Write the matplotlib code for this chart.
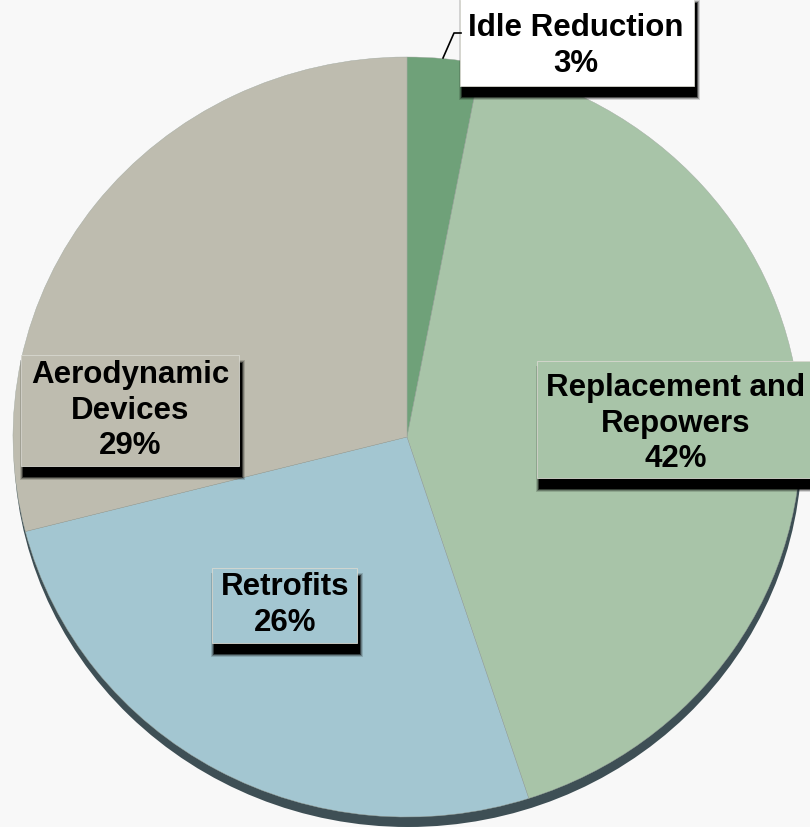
import matplotlib
matplotlib.use("Agg")
import matplotlib.pyplot as plt
from matplotlib.patches import Rectangle, Ellipse

# ---- data ----
categories = ["Idle Reduction", "Replacement and\nRepowers", "Retrofits", "Aerodynamic\nDevices"]
values = [3, 42, 26, 29]
colors = ["#6fa179", "#a8c4a8", "#a3c6d1", "#bebcaf"]

W, H = 810, 827
CX, CY = 407, 437      # pie centre (pixels, from top-left)
RX, RY = 394, 380      # pie radii in pixels

fig = plt.figure(figsize=(W / 100, H / 100), dpi=100)
fig.patch.set_facecolor("#f8f8f8")
ax = fig.add_axes([0, 0, 1, 1])
ax.set_facecolor("#f8f8f8")


def px(x, y):
    return (x - CX) / RX, (CY - y) / RY


# pie shadow
sx, sy = px(CX + 1, CY + 10)
ax.add_patch(Ellipse((sx, sy), 2, 2, facecolor="#3e4f55", edgecolor="none", zorder=1))

wedges, _ = ax.pie(values, colors=colors, startangle=90, counterclock=False,
                   radius=1, center=(0, 0), frame=True,
                   wedgeprops=dict(linewidth=0.3, edgecolor="#a0a8a0"))
for w in wedges:
    w.set_zorder(2)
ax.set_aspect("auto")
ax.set_xlim(-CX / RX, (W - CX) / RX)
ax.set_ylim(-(H - CY) / RY, CY / RY)
ax.axis("off")

percent_labels = [f"{v}%" for v in values]

# label boxes: (left, top, right, bottom) pixels, text centre x, first line y, fill
boxes = [
    (460, -5, 694, 86, 576, 27, "#ffffff"),
    (537, 361, 830, 478, 676, 387, colors[1]),
    (212, 568, 357, 643, 285, 586, colors[2]),
    (21, 355, 239, 466, 130, 374, colors[3]),
]

for i, (l, t, r, b, tx, ty, fc) in enumerate(boxes):
    # soft shadow
    for k, a in enumerate([0.15, 0.25, 0.5, 1.0]):
        grow = 3 - k
        x0, y0 = px(l + 2 - grow, b + 11 + grow)
        x1, y1 = px(r + 3 + grow, t + 8 - grow)
        ax.add_patch(Rectangle((x0, y0), x1 - x0, y1 - y0, facecolor="black",
                               edgecolor="none", alpha=a, zorder=5 + k * 0.01))
    x0, y0 = px(l, b)
    x1, y1 = px(r, t)
    ax.add_patch(Rectangle((x0, y0), x1 - x0, y1 - y0, facecolor=fc,
                           edgecolor="#d8d8d0", linewidth=0.6, zorder=6))
    txt = categories[i] + "\n" + percent_labels[i]
    tx_, ty_ = px(tx, ty - 14)
    ax.text(tx_, ty_, txt, ha="center", va="top", fontsize=22.5, fontweight="bold",
            family="Liberation Sans", color="black", linespacing=1.24, zorder=7)

# leader line for Idle Reduction
lx = [443, 454, 461]
ly = [58, 33, 33]
pts = [px(a, b) for a, b in zip(lx, ly)]
ax.plot([p[0] for p in pts], [p[1] for p in pts], color="black", lw=1.2, zorder=8)

fig.savefig("out.png", dpi=100, facecolor=fig.get_facecolor())
